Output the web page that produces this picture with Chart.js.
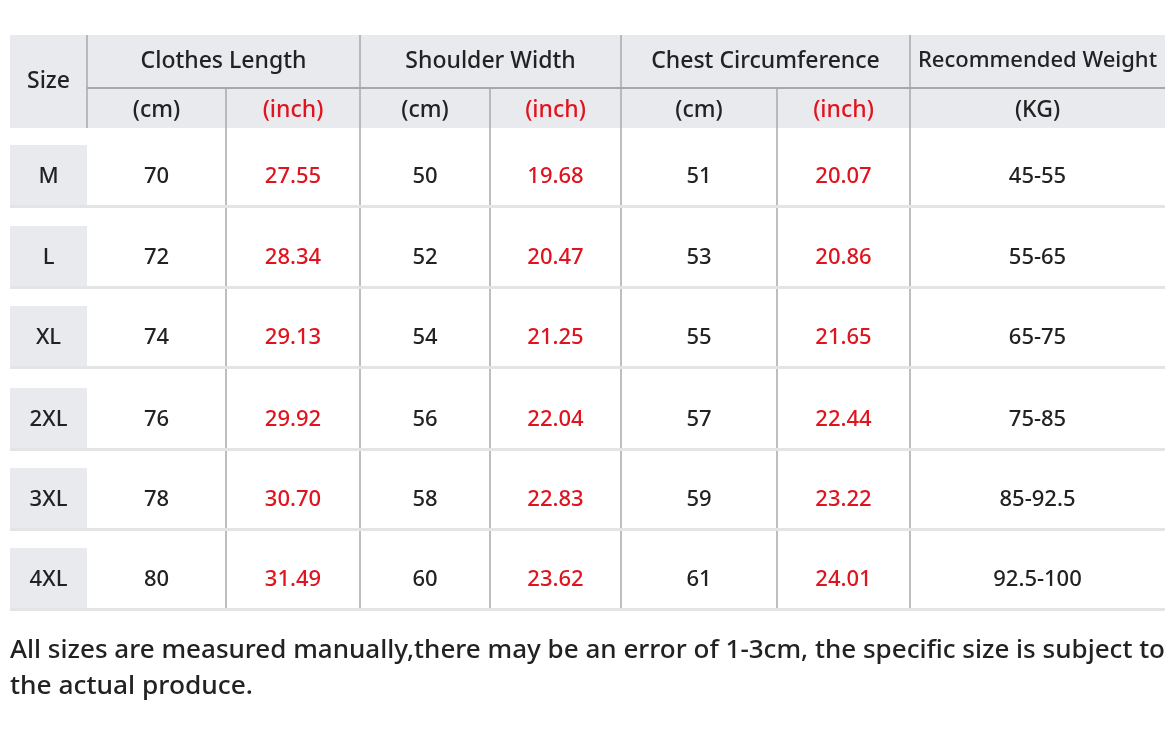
<!DOCTYPE html>
<html><head><meta charset="utf-8">
<script src="https://cdn.jsdelivr.net/npm/chart.js@4"></script>
<style>html,body{margin:0;padding:0;background:#fff}</style>
</head><body>
<canvas id="c" width="1169" height="742"></canvas>
<script>
const sizes=['M','L','XL','2XL','3XL','4XL'];
const lengthCm=['70','72','74','76','78','80'];
const lengthIn=['27.55','28.34','29.13','29.92','30.70','31.49'];
const shoulderCm=['50','52','54','56','58','60'];
const shoulderIn=['19.68','20.47','21.25','22.04','22.83','23.62'];
const chestCm=['51','53','55','57','59','61'];
const chestIn=['20.07','20.86','21.65','22.44','23.22','24.01'];
const weight=['45-55','55-65','65-75','75-85','85-92.5','92.5-100'];
const groupHeaders=['Clothes Length','Shoulder Width','Chest Circumference','Recommended Weight'];
const unitHeaders=['(cm)','(inch)','(cm)','(inch)','(cm)','(inch)','(KG)'];
const footer=['All sizes are measured manually,there may be an error of 1-3cm, the specific size is subject to','the actual produce.'];

// layout (not data)
const colEdges=[10,87,226,360,490,621,777,910,1165];
const rowTops=[145,226,306,388,468,548], rowH=60;
const RED='#e0141e', DARK='#222', GRAY='#e9eaee', LINE='#a8a8a8';
const FONT='"Noto Sans", "Open Sans", sans-serif';

const tablePlugin={id:'table',afterDraw(ch){
  const c=ch.ctx,X=v=>ch.scales.x.getPixelForValue(v),Y=v=>ch.scales.y.getPixelForValue(v);
  c.save();
  const rect=(x0,y0,x1,y1,col)=>{c.fillStyle=col;c.fillRect(X(x0),Y(y0),X(x1)-X(x0),Y(y1)-Y(y0));};
  const line=(x0,y0,x1,y1,col,w)=>{c.strokeStyle=col;c.lineWidth=w;c.beginPath();c.moveTo(X(x0),Y(y0));c.lineTo(X(x1),Y(y1));c.stroke();};
  const text=(s,x,y,col,size,align='center',fitW)=>{c.fillStyle=col;c.font=`500 ${size}px ${FONT}`;c.textAlign=align;c.textBaseline='middle';
    if(fitW){c.save();const w=c.measureText(s).width;c.translate(X(x),Y(y));c.scale(fitW/w,1);c.fillText(s,0,0);c.restore();}
    else c.fillText(s,X(x),Y(y));};
  const E=colEdges,mid=i=>(E[i]+E[i+1])/2;
  rect(E[0],35,E[8],128,GRAY);
  line(E[1],88,E[8],88,LINE,2);
  [1,3,5,7].forEach(i=>line(E[i],35,E[i],128,LINE,1.5));
  [2,4,6].forEach(i=>line(E[i],88,E[i],128,LINE,1.5));
  text('Size',mid(0),81,DARK,23);
  const gc=[[1,3],[3,5],[5,7],[7,8]];
  groupHeaders.forEach((h,i)=>text(h,(E[gc[i][0]]+E[gc[i][1]])/2,61,DARK,i===3?22:23));
  unitHeaders.forEach((h,i)=>text(h,mid(i+1),110,h==='(inch)'?RED:DARK,23));
  [2,3,4,5,6,7].forEach(i=>line(E[i],128,E[i],609,LINE,1.5));
  const cols=[lengthCm,lengthIn,shoulderCm,shoulderIn,chestCm,chestIn,weight];
  sizes.forEach((s,r)=>{
    const t=rowTops[r],cy=t+rowH/2+2;
    rect(E[0],t,E[1],t+rowH,GRAY);
    line(E[0],t+rowH+1.5,E[8],t+rowH+1.5,'#e4e4e4',3);
    text(s,mid(0),cy,DARK,22);
    cols.forEach((arr,i)=>text(arr[r],mid(i+1),cy,(i===1||i===3||i===5)?RED:DARK,22));
  });
  text(footer[0],10,651,DARK,25,'left',1155);
  text(footer[1],10,687,DARK,25,'left',243);
  c.restore();
}};

new Chart(document.getElementById('c'),{
  type:'scatter',
  data:{datasets:[{data:[]}]},
  options:{responsive:false,animation:false,layout:{padding:0},
    plugins:{legend:{display:false},tooltip:{enabled:false}},
    scales:{x:{type:'linear',min:0,max:1169,display:false},
            y:{type:'linear',min:0,max:742,reverse:true,display:false}}},
  plugins:[tablePlugin]
});
</script>
</body></html>
